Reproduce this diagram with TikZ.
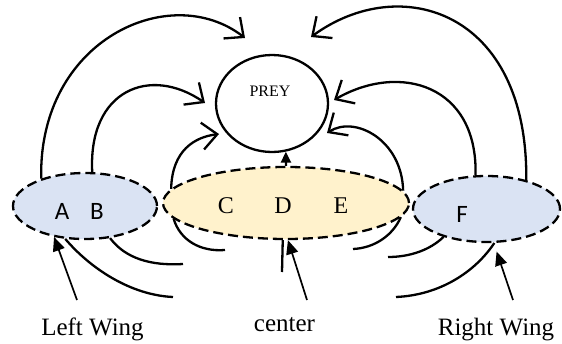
\documentclass[tikz,border=0pt]{standalone}
\usepackage{fontspec}
\setmainfont{Liberation Serif}
\newfontfamily\calfont{Carlito}
\usetikzlibrary{arrows.meta,shapes.geometric}
\definecolor{wingblue}{HTML}{DAE3F3}
\definecolor{centeryellow}{HTML}{FFF2CC}
\begin{document}
\begin{tikzpicture}[x=1pt,y=-1pt,
  group/.style={ellipse,draw,line width=2.3pt,dash pattern=on 10pt off 5pt,inner sep=0pt},
  flow/.style={line width=2.3pt,-{Straight Barb[length=15pt,width=27pt]}},
  tail/.style={line width=2.3pt},
  pointer/.style={line width=1.7pt,-{Triangle[length=14pt,width=12pt]}},
  lbl/.style={font=\fontsize{25}{30}\selectfont,anchor=base,inner sep=0pt},
  serifletter/.style={font=\fontsize{24}{28}\selectfont,anchor=base,inner sep=0pt},
  sansletter/.style={font=\calfont\fontsize{25}{28}\selectfont,anchor=base,inner sep=0pt}]
\useasboundingbox (0,0) rectangle (562,343);
\fill[white] (0,0) rectangle (562,343);
% groups
\node[group,fill=wingblue,minimum width=144pt,minimum height=66pt] (L) at (85,206) {};
\node[group,fill=centeryellow,minimum width=246pt,minimum height=72pt] (C) at (286,203) {};
\node[group,fill=wingblue,minimum width=147pt,minimum height=66pt] (R) at (486.5,209) {};
\node[ellipse,draw,line width=2.3pt,minimum width=112pt,minimum height=97pt,inner sep=0pt] (prey) at (272,103.5) {};
\node[font=\fontsize{16}{18}\selectfont,anchor=base,inner sep=0pt] (preytext) at (270,96) {PREY};
% letters
\node[sansletter] (a) at (62,219) {A};
\node[sansletter] (b) at (97,219) {B};
\node[serifletter] (c) at (226,213) {C};
\node[serifletter] (d) at (283,213) {D};
\node[serifletter] (e) at (341,213) {E};
\node[sansletter] (f) at (462,222) {F};
% labels
\node[lbl] (lw) at (92.5,335) {Left Wing};
\node[lbl] (ct) at (284.5,331) {center};
\node[lbl] (rw) at (496,335) {Right Wing};
% arcs towards prey
\draw[flow] (L.148) .. controls (38,40) and (170,-20) .. (245,38);
\draw[flow] (L.78) .. controls (88,90) and (150,65) .. (205,103);
\draw[flow] (C.173) .. controls (172,150) and (195,137) .. (219,134);
\draw[flow] (R.36) .. controls (528,10) and (400,-28) .. (311,37);
\draw[flow] (R.108) .. controls (478,85) and (400,62) .. (334,100);
\draw[flow] (C.6) .. controls (402,140) and (355,115) .. (327,133);
\draw[line width=2.3pt,-{Triangle[length=11pt,width=10pt]}] (C.north) -- (prey.-74);
% tails below
\coordinate (t8) at (183,264);
\coordinate (t9) at (173,297);
\coordinate (t10) at (225,250);
\coordinate (t11) at (353,249);
\coordinate (t13) at (388,257);
\coordinate (t14) at (396,297);
\coordinate (ctline) at (282,272);
\draw[tail] (L.-52) .. controls (125,258) and (150,266) .. (t8);
\draw[tail] (L.-121) .. controls (90,268) and (130,295) .. (t9);
\draw[tail] (C.188) .. controls (180,240) and (200,252) .. (t10);
\draw[tail] (C.-7) .. controls (393,235) and (375,248) .. (t11);
\draw[tail] (R.-147) .. controls (430,250) and (410,257) .. (t13);
\draw[tail] (R.-77) .. controls (475,272) and (440,295) .. (t14);
\draw[tail] (C.-95) -- (ctline);
% label pointers
\coordinate (lwtail) at (77,300);
\coordinate (cttail) at (307,300);
\coordinate (rwtail) at (513,300);
\draw[pointer] (lwtail) -- (L.-135);
\draw[pointer] (cttail) -- (C.-87);
\draw[pointer,shorten >=9pt] (rwtail) -- (R.-78);
\end{tikzpicture}
\end{document}
